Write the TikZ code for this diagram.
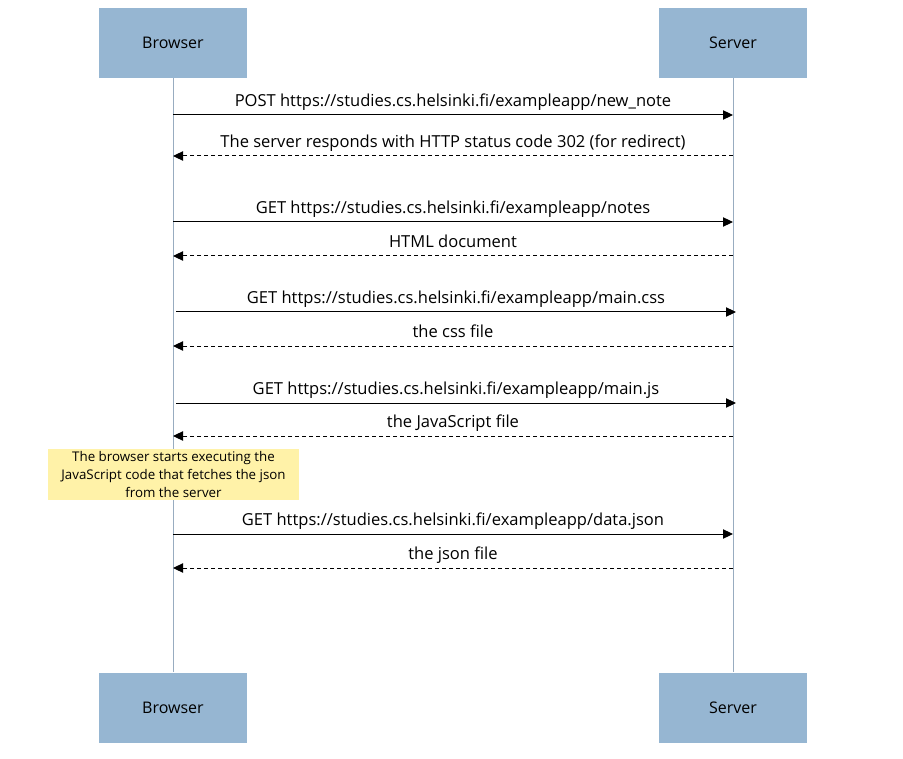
\documentclass[tikz,border=0pt]{standalone}
\usepackage{fontspec}
\setmainfont{Open Sans}
\usetikzlibrary{arrows.meta}
\definecolor{ActorBlue}{RGB}{150,182,210}
\definecolor{LifeGray}{RGB}{152,172,192}
\definecolor{NoteYellow}{RGB}{255,242,168}

\begin{document}
\begin{tikzpicture}[x=0.75pt, y=-0.75pt,
  actor/.style={fill=ActorBlue, minimum width=111pt, minimum height=52.5pt, inner sep=0pt, font=\fontsize{12}{14}\selectfont},
  msg/.style={-{Triangle[length=7.5pt, width=7pt]}, line width=0.75pt},
  reply/.style={msg, dash pattern=on 3pt off 2.25pt},
  lbl/.style={midway, anchor=base, yshift=6.3pt, inner sep=0pt, font=\fontsize{12.4}{14}\selectfont}]
\pgfmathsetmacro{\xb}{173} % browser lifeline
\pgfmathsetmacro{\xs}{733} % server lifeline

\useasboundingbox (0,0) rectangle (903,759); % page

% actors
\node[actor] (browserTop) at (\xb,43) {Browser};
\node[actor] (serverTop) at (\xs,43) {Server};
\node[actor] (browserBot) at (\xb,707.5) {Browser};
\node[actor] (serverBot) at (\xs,707.5) {Server};

% lifelines
\draw[LifeGray, line width=0.75pt] (browserTop) -- (browserBot);
\draw[LifeGray, line width=0.75pt] (serverTop) -- (serverBot);

% message ends
\foreach \n/\y in {1/115, 2/156, 3/222, 4/256, 5/312, 6/346, 7/403, 8/436, 9/534, 10/568} {
  \coordinate (b\n) at (\xb,\y);
  \coordinate (s\n) at (\xs,\y);
}

\draw[msg] (b1) -- (s1) node[lbl] {POST https://studies.cs.helsinki.fi/exampleapp/new\_note};
\draw[reply] (s2) -- (b2) node[lbl] {The server responds with HTTP status code 302 (for redirect)};
\draw[msg] (b3) -- (s3) node[lbl] {GET https://studies.cs.helsinki.fi/exampleapp/notes};
\draw[reply] (s4) -- (b4) node[lbl] {HTML document};
\draw[msg] ([xshift=2.25pt]b5) -- ([xshift=2.25pt]s5) node[lbl] {GET https://studies.cs.helsinki.fi/exampleapp/main.css};
\draw[reply] (s6) -- (b6) node[lbl] {the css file};
\draw[msg] ([xshift=2.25pt]b7) -- ([xshift=2.25pt]s7) node[lbl] {GET https://studies.cs.helsinki.fi/exampleapp/main.js};
\draw[reply] (s8) -- (b8) node[lbl] {the JavaScript file};
\draw[msg] (b9) -- (s9) node[lbl] {GET https://studies.cs.helsinki.fi/exampleapp/data.json};
\draw[reply] (s10) -- (b10) node[lbl] {the json file};

% note
\node[fill=NoteYellow, minimum width=188.25pt, minimum height=38.25pt, inner sep=0pt, align=center,
  font=\fontsize{10}{13.5}\selectfont] (jsNote) at (\xb+0.5,474.5)
  {The browser starts executing the\\JavaScript code that fetches the json\\from the server};
\end{tikzpicture}
\end{document}
